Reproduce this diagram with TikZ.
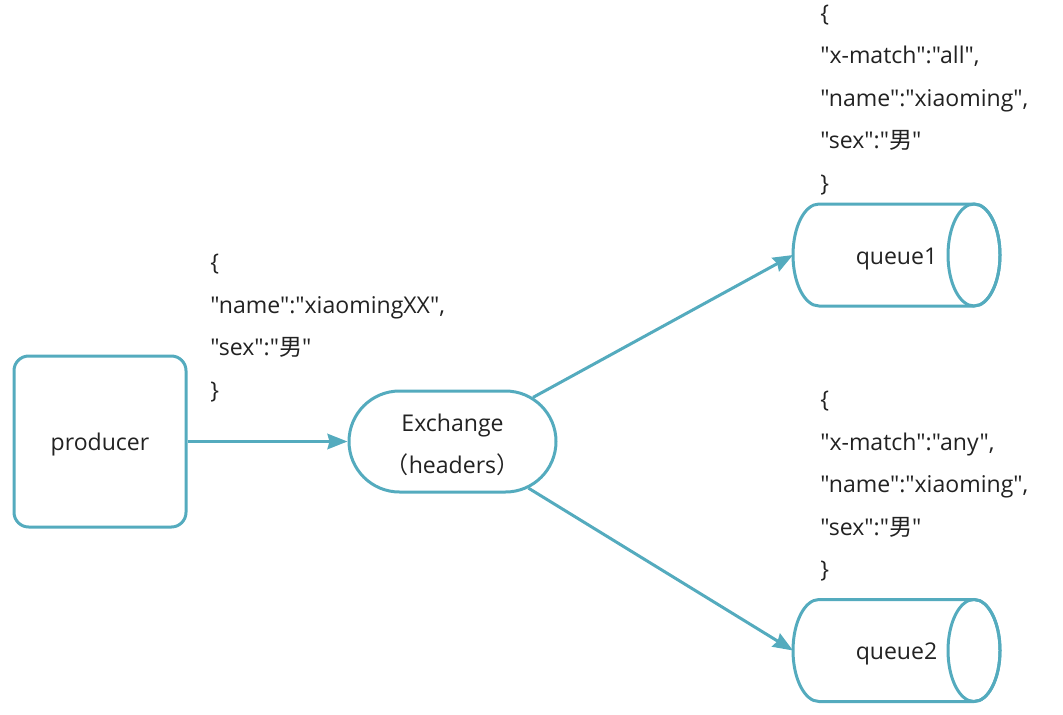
\documentclass[tikz,border=0pt]{standalone}
\usepackage{fontspec}
\newfontfamily\latinfont{Open Sans}
\newfontfamily\cjk{Noto Sans CJK SC}
\usetikzlibrary{arrows.meta,shapes.misc,calc}
\definecolor{qteal}{RGB}{84,171,190}
\definecolor{ink}{RGB}{34,34,34}
\newcommand\fsz{\latinfont\fontsize{17.3pt}{31.5pt}\selectfont}
\newcommand\lowr[2]{\raisebox{-#1}[\height][\depth]{#2}}
\begin{document}
\begin{tikzpicture}[x=0.75pt,y=-0.75pt,
  box/.style={draw=qteal, line width=2.25pt, fill=white, font=\fsz, text=ink, inner sep=0pt, align=center},
  txt/.style={anchor=base west, inner sep=0pt, font=\fsz, text=ink},
  conn/.style={draw=qteal, line width=2.25pt, -{Stealth[length=15pt,width=11.5pt,inset=1.5pt]}},
  cyl/.style={draw=qteal, line width=2.25pt}]
\useasboundingbox (0,0) rectangle (1063,714);

% nodes
\node[box, rounded corners=11pt, minimum width=129pt, minimum height=128.25pt] (prod) at (100,441.5) {\lowr{2.2pt}{producer}};
\node[box, rounded rectangle, minimum width=155.25pt, minimum height=75.75pt] (ex) at (452.5,441.5)
  {\lowr{1.6pt}{\begin{tabular}{@{}c@{}}Exchange\\{\cjk （}headers{\cjk ）}\end{tabular}}};
\node[inner sep=0pt, outer sep=0pt, minimum width=155.25pt, minimum height=76.5pt, font=\fsz, text=ink] (q1) at (896.5,255) {\lowr{2.8pt}{queue1}};
\node[inner sep=0pt, outer sep=0pt, minimum width=155.25pt, minimum height=76.5pt, font=\fsz, text=ink] (q2) at (896.5,650.5) {\lowr{2.2pt}{queue2}};

% cylinders
\foreach \q in {q1,q2}{
  \draw[cyl] ($(\q.north west)+(26,0)$) arc[start angle=90,end angle=270,x radius=19.5pt,y radius=38.25pt]
     -- ($(\q.south east)+(-26,0)$) arc[start angle=-90,end angle=90,x radius=19.5pt,y radius=38.25pt] -- cycle;
  \draw[cyl] ($(\q.east)+(-26,0)$) ellipse[x radius=19.5pt,y radius=38.25pt];
}

% connectors
\draw[conn] (prod) -- (ex);
\draw[conn] (ex) -- (q1.west);
\draw[conn] (ex) -- (q2.west);

% message text
\node[txt] (m1) at (210,270.5) {\{};
\node[txt] (m2) at (210,313) {"name":"xiaomingXX",};
\node[txt] (m3) at (210,355.5) {"sex":"{\cjk 男}"};
\node[txt] (m4) at (210,398) {\}};

% queue1 binding
\node[txt] (a1) at (820,21) {\{};
\node[txt] (a2) at (820,63.5) {"x-match":"all",};
\node[txt] (a3) at (820,106) {"name":"xiaoming",};
\node[txt] (a4) at (820,148.5) {"sex":"{\cjk 男}"};
\node[txt] (a5) at (820,191) {\}};

% queue2 binding
\node[txt] (b1) at (820,407) {\{};
\node[txt] (b2) at (820,450) {"x-match":"any",};
\node[txt] (b3) at (820,492) {"name":"xiaoming",};
\node[txt] (b4) at (820,535) {"sex":"{\cjk 男}"};
\node[txt] (b5) at (820,577) {\}};
\end{tikzpicture}
\end{document}
